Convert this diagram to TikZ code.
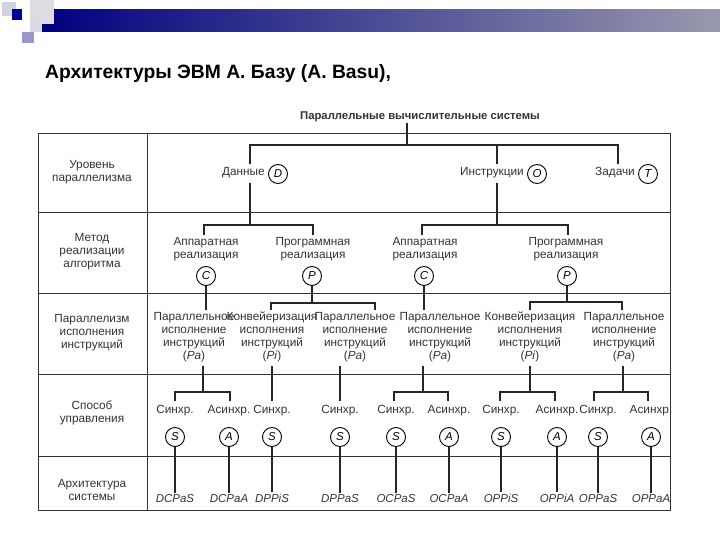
\documentclass[tikz,border=0pt]{standalone}
\usepackage{fontspec}
\setmainfont{Liberation Sans}
\begin{document}
\begin{tikzpicture}[x=1pt,y=-1pt,
  lbl/.style={font=\fontsize{11.8}{13}\selectfont,text=black!80,align=center,inner sep=1pt},
  circ/.style={circle,draw,line width=0.9pt,minimum size=19pt,inner sep=0pt,font=\fontsize{11.5}{12}\selectfont\itshape},
  arch/.style={font=\fontsize{11.5}{12}\selectfont\itshape,text=black!80,inner sep=1pt,anchor=base},
  ln/.style={line width=1.1pt,black!85},
  grid/.style={line width=0.9pt,black!80}]
\useasboundingbox (0,0) rectangle (720,540);
% decoration
\shade[left color=blue!50!black,right color=blue!20!black!40!white] (42,10) rectangle (720,32);
\fill[blue!15!gray!30] (2,2) rectangle (16,16);
\fill[blue!10!gray!25] (30,0) rectangle (54,24);
\fill[blue!60!black] (12,9) rectangle (22,20);
\fill[blue!35!gray!60] (22,32) rectangle (34,43);
\fill[blue!15!gray!25] (30,20) rectangle (42,32);
% title
\node[anchor=base west,font=\bfseries\fontsize{19.3}{22}\selectfont,inner sep=0] (title) at (45,79) {Архитектуры ЭВМ А. Базу (A. Basu),};
% table
\draw[grid] (38,133) rectangle (670,510);
\draw[grid] (147,133) -- (147,510);
\foreach \y in {212,293,374,456} \draw[grid] (38,\y) -- (670,\y);
\node[lbl] (r1) at (92,172) {Уровень\\параллелизма};
\node[lbl] (r2) at (92,252) {Метод\\реализации\\алгоритма};
\node[lbl] (r3) at (92,333) {Параллелизм\\исполнения\\инструкций};
\node[lbl] (r4) at (92,413) {Способ\\управления};
\node[lbl] (r5) at (92,490) {Архитектура\\системы};
% header
\node[lbl,font=\bfseries\fontsize{11.3}{12}\selectfont] (top) at (420,117) {Параллельные вычислительные системы};
% level 1
\node[lbl,anchor=east] (dan) at (266,173) {Данные};
\node[circ] (D) at (278,174) {D};
\node[lbl,anchor=east] (ins) at (525,173) {Инструкции};
\node[circ] (O) at (537,174) {O};
\node[lbl,anchor=east] (zad) at (636,173) {Задачи};
\node[circ] (T) at (648,174) {T};
\coordinate (d1) at (250,164); \coordinate (o1) at (497,164); \coordinate (t1) at (618,164);
\draw[ln] (top.south -| 407,0) -- (407,145);
\draw[ln] (d1) -- (250,145) -- (618,145) -- (t1);
\draw[ln] (497,145) -- (o1);
% level 2
\node[lbl] (c1) at (206,249) {Аппаратная\\реализация};
\node[circ] (C1) at (206,276) {C};
\node[lbl] (p1) at (313,249) {Программная\\реализация};
\node[circ] (P1) at (312,276) {P};
\node[lbl] (c2) at (425,249) {Аппаратная\\реализация};
\node[circ] (C2) at (424,276) {C};
\node[lbl] (p2) at (566,249) {Программная\\реализация};
\node[circ] (P2) at (567,276) {P};
\draw[ln] (250,183) -- (250,225);
\draw[ln] (204,235) -- (204,225) -- (313,225) -- (313,235);
\draw[ln] (497,183) -- (497,225);
\draw[ln] (422,235) -- (422,225) -- (568,225) -- (568,235);
% level 3
\node[lbl] (a1) at (194,337) {Параллельное\\исполнение\\инструкций\\(\textit{Pa})};
\node[lbl] (a2) at (272,337) {Конвейеризация\\исполнения\\инструкций\\(\textit{Pi})};
\node[lbl] (a3) at (355,337) {Параллельное\\исполнение\\инструкций\\(\textit{Pa})};
\node[lbl] (a4) at (440,337) {Параллельное\\исполнение\\инструкций\\(\textit{Pa})};
\node[lbl] (a5) at (530,337) {Конвейеризация\\исполнения\\инструкций\\(\textit{Pi})};
\node[lbl] (a6) at (624,337) {Параллельное\\исполнение\\инструкций\\(\textit{Pa})};
\draw[ln] (C1) -- (206,310);
\draw[ln] (P1) -- (312,303);
\draw[ln] (271,310) -- (271,303) -- (375,303) -- (375,310);
\draw[ln] (C2) -- (424,310);
\draw[ln] (P2) -- (567,302);
\draw[ln] (530,310) -- (530,302) -- (622,302) -- (622,310);
% level 4
\foreach \n/\x/\t/\c in {1/175/Синхр./S,2/229/Асинхр./A,3/272/Синхр./S,4/340/Синхр./S,5/396/Синхр./S,6/449/Асинхр./A,7/501/Синхр./S,8/557/Асинхр./A,9/598/Синхр./S,10/651/Асинхр./A}{
  \node[lbl] (s\n) at (\x,411) {\t};
  \node[circ] (k\n) at (\x,437) {\c};
}
\draw[ln] (203,366) -- (203,392); \draw[ln] (175,401) -- (175,392) -- (230,392) -- (230,401);
\draw[ln] (272,366) -- (272,401);
\draw[ln] (340,366) -- (340,401);
\draw[ln] (423,366) -- (423,392); \draw[ln] (394,401) -- (394,392) -- (448,392) -- (448,401);
\draw[ln] (530,366) -- (530,392); \draw[ln] (500,401) -- (500,392) -- (555,392) -- (555,401);
\draw[ln] (623,366) -- (623,392); \draw[ln] (594,401) -- (594,392) -- (648,392) -- (648,401);
% level 5
\foreach \n/\x/\t in {1/175/DCPaS,2/229/DCPaA,3/272/DPPiS,4/340/DPPaS,5/396/OCPaS,6/449/OCPaA,7/501/OPPiS,8/557/OPPiA,9/598/OPPaS,10/651/OPPaA}{
  \node[arch] (m\n) at (\x,502) {\t};
  \draw[ln] (k\n) -- (m\n.north);
}
\end{tikzpicture}
\end{document}
